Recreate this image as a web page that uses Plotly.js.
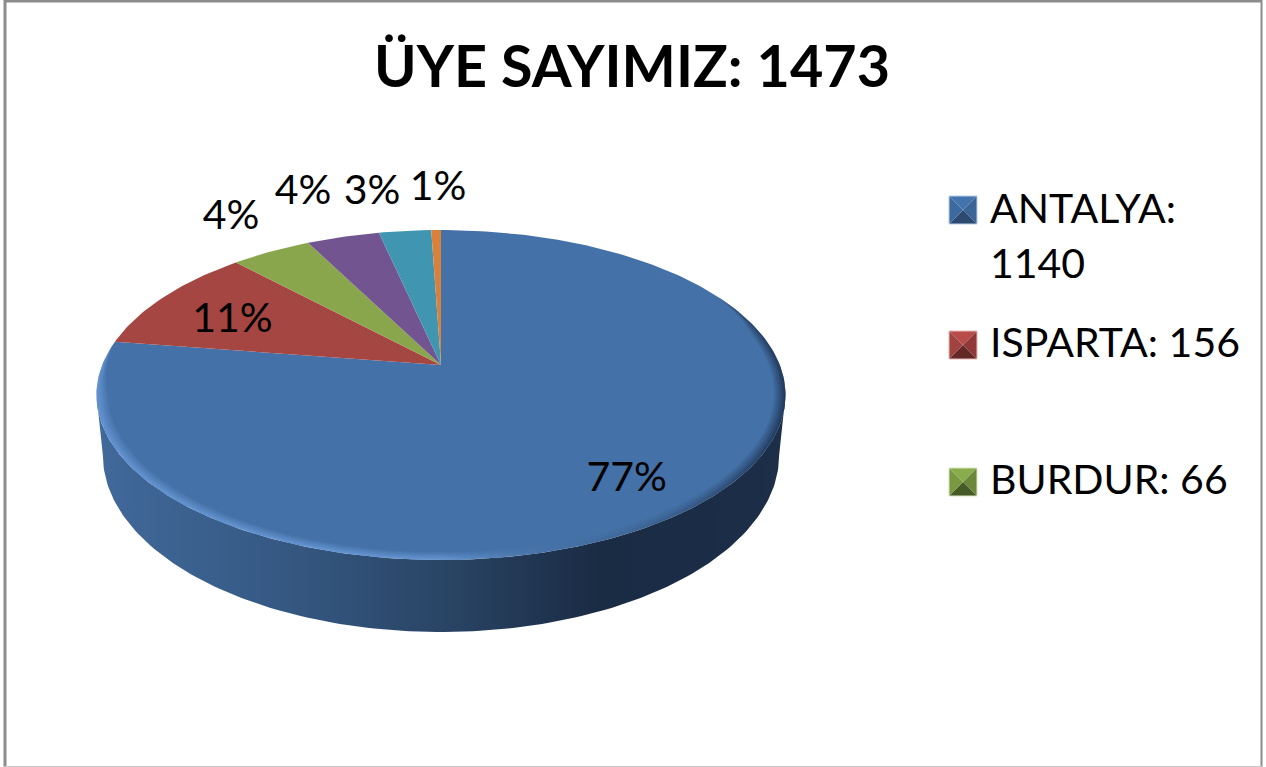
<!DOCTYPE html>
<html>
<head>
<meta charset="utf-8">
<script src="https://cdn.plot.ly/plotly-3.0.1.min.js"></script>
<style>html,body{margin:0;padding:0;background:#fff;overflow:hidden}#chart{width:1266px;height:767px}</style>
</head>
<body>
<div id="chart"></div>
<script>
// ---------- data ----------
const chartTitle = "ÜYE SAYIMIZ: 1473";
const categories = ["ANTALYA", "ISPARTA", "BURDUR", "Diğer 1", "Diğer 2", "Diğer 3"];
const values = [1140, 156, 66, 60, 43, 8];
const sliceColors = ["#4471a7", "#a54643", "#8aa64d", "#725590", "#4096b0", "#d9813a"];
const legendCount = 3;

// ---------- styling / placement ----------
const FONT = "Lato, Carlito, sans-serif";
const disk = {cx: 441, cy: 365, a: 338.8, b: 159.5, k: 0.1818};
const base = {cx: 441, cy: 423, a: 332.5, b: 171, k: 0.1818};
const labelRadius = [0.75, 0.75, 1, 1, 1, 1];
const labelNudgeX = [1, 3, -40, -40, -33, 2];
const labelNudgeY = [15, 9, -33, -43, -37, -40];
const swatchFaces = [
  ["#4474ad", "#3a6596", "#2c4a70", "#3d6a9e"],
  ["#b84c49", "#8f3a38", "#642826", "#a04341"],
  ["#89ac4c", "#6a873a", "#465a26", "#789941"]
];
const swatchEdge = ["#b9cde5", "#e6b9b8", "#d7e4bd"];
const legendRowY = [210, 345, 482];
const legendSwatchX = 963, legendTextX = 990, legendSwatch = 28, legendWrapGap = 55;

// ---------- geometry helpers ----------
const rad = d => d * Math.PI / 180;
function project(p, deg, r) {
  const u = r * Math.sin(rad(deg)), v = r * Math.cos(rad(deg)), d = 1 + p.k * v;
  return [p.cx + p.a * u / d, p.cy - p.b * v / d];
}
function arc(p, from, to, r, rf) {
  const n = Math.max(2, Math.ceil(Math.abs(to - from))), pts = [];
  for (let i = 0; i <= n; i++) {
    const t = from + (to - from) * i / n;
    pts.push(project(p, t, typeof rf === "function" ? rf(t) : r));
  }
  return pts;
}
const xs = a => a.map(q => q[0]), ys = a => a.map(q => q[1]);
function poly(pts, fill, extra) {
  return Object.assign({
    type: "scatter", mode: "lines", x: xs(pts), y: ys(pts), fill: "toself",
    fillcolor: fill, line: {width: 0, color: fill}, hoverinfo: "skip", showlegend: false
  }, extra || {});
}

const total = values.reduce((s, v) => s + v, 0);
const traces = [];

// side wall
const wallFrom = 100.5, wallTo = 259.5;
const wall = arc(disk, wallFrom, wallTo, 1).concat(arc(base, wallTo, wallFrom, 1));
traces.push({
  type: "scatter", mode: "lines", x: xs(wall), y: ys(wall), fill: "toself",
  line: {width: 0}, hoverinfo: "skip", showlegend: false,
  fillgradient: {type: "horizontal", colorscale: [
    [0, "#41699a"], [0.25, "#365a85"], [0.5, "#2a4566"], [0.73, "#1a2b44"], [1, "#1c2e48"]
  ]}
});

// top face slices
let angle = 0;
const mids = [];
values.forEach((v, i) => {
  const sweep = v / total * 360;
  mids.push(angle + sweep / 2);
  const pts = [project(disk, 0, 0)].concat(arc(disk, angle, angle + sweep, 1));
  traces.push(poly(pts, sliceColors[i]));
  angle += sweep;
});

// soft bevel on the big slice's rim
const firstEnd = values[0] / total * 360;
[0.968, 0.973, 0.978, 0.982, 0.986, 0.989, 0.992, 0.995].forEach(rIn => {
  const from = 62, to = firstEnd - 1;
  const taper = t => {
    const e = Math.min(1, Math.min(t - from, to - t) / 18);
    return 1 - (1 - rIn) * e;
  };
  const ring = arc(disk, from, to, 1).concat(arc(disk, to, from, 1, taper));
  traces.push({
    type: "scatter", mode: "lines", x: xs(ring), y: ys(ring), fill: "toself",
    line: {width: 0}, hoverinfo: "skip", showlegend: false,
    fillgradient: {type: "horizontal", colorscale: [
      [0, "rgba(120,170,235,0.10)"], [0.5, "rgba(120,170,235,0.10)"],
      [0.72, "rgba(60,95,140,0.04)"], [1, "rgba(15,30,55,0.12)"]
    ]}
  });
});

// percent labels
const labelPts = mids.map((m, i) => {
  const q = project(disk, m, labelRadius[i]);
  return [q[0] + labelNudgeX[i], q[1] + labelNudgeY[i]];
});
traces.push({
  type: "scatter", mode: "text", x: xs(labelPts), y: ys(labelPts),
  text: values.map(v => Math.round(v / total * 100) + "%"),
  textposition: "middle center", textfont: {family: FONT, size: 41, color: "#000"},
  hoverinfo: "skip", showlegend: false, cliponaxis: false
});

// legend: bevelled swatches and text
for (let i = 0; i < legendCount; i++) {
  const c = legendSwatchX, m = legendRowY[i], h = legendSwatch / 2;
  const tl = [c - h, m - h], tr = [c + h, m - h], br = [c + h, m + h], bl = [c - h, m + h], mid = [c, m];
  traces.push(poly([tl, tr, mid], swatchFaces[i][0]));
  traces.push(poly([tr, br, mid], swatchFaces[i][1]));
  traces.push(poly([br, bl, mid], swatchFaces[i][2]));
  traces.push(poly([bl, tl, mid], swatchFaces[i][3]));
  const edge = [tl, tr, br, bl, tl];
  traces.push({type: "scatter", mode: "lines", x: xs(edge), y: ys(edge),
    line: {width: 1, color: swatchEdge[i]}, hoverinfo: "skip", showlegend: false});
}
const legendText = [], legendX = [], legendY = [];
categories.slice(0, legendCount).forEach((c, i) => {
  if (i === 0) {
    legendText.push(c + ":", String(values[i]));
    legendX.push(legendTextX, legendTextX);
    legendY.push(legendRowY[i] + 3, legendRowY[i] + 3 + legendWrapGap);
  } else {
    legendText.push(c + ": " + values[i]);
    legendX.push(legendTextX);
    legendY.push(legendRowY[i] + 2);
  }
});
traces.push({
  type: "scatter", mode: "text", x: legendX, y: legendY, text: legendText,
  textposition: "middle right", textfont: {family: FONT, size: 41, color: "#000"},
  hoverinfo: "skip", showlegend: false, cliponaxis: false
});

const layout = {
  width: 1266, height: 767,
  margin: {l: 0, r: 0, t: 0, b: 0, pad: 0},
  paper_bgcolor: "#fff", plot_bgcolor: "#fff",
  showlegend: false, hovermode: false,
  title: {
    text: "<b>" + chartTitle + "</b>",
    font: {family: FONT, size: 57.5, color: "#000"},
    x: 632 / 1266, xanchor: "center", y: 1 - 67 / 767, yanchor: "middle"
  },
  xaxis: {range: [0, 1266], visible: false, fixedrange: true},
  yaxis: {range: [767, 0], visible: false, fixedrange: true},
  shapes: [
    {type: "line", xref: "x", yref: "y", x0: 5, x1: 5, y0: 0, y1: 767, line: {color: "#8c8c8c", width: 3}},
    {type: "line", xref: "x", yref: "y", x0: 4, x1: 1262, y0: 1, y1: 1, line: {color: "#8c8c8c", width: 3}},
    {type: "line", xref: "x", yref: "y", x0: 1261.5, x1: 1261.5, y0: 0, y1: 767, line: {color: "#8c8c8c", width: 2}},
    {type: "line", xref: "x", yref: "y", x0: 4, x1: 1262, y0: 766.5, y1: 766.5, line: {color: "#c8c8c8", width: 1}}
  ]
};
Plotly.newPlot("chart", traces, layout, {displayModeBar: false, staticPlot: true});
</script>
</body>
</html>
